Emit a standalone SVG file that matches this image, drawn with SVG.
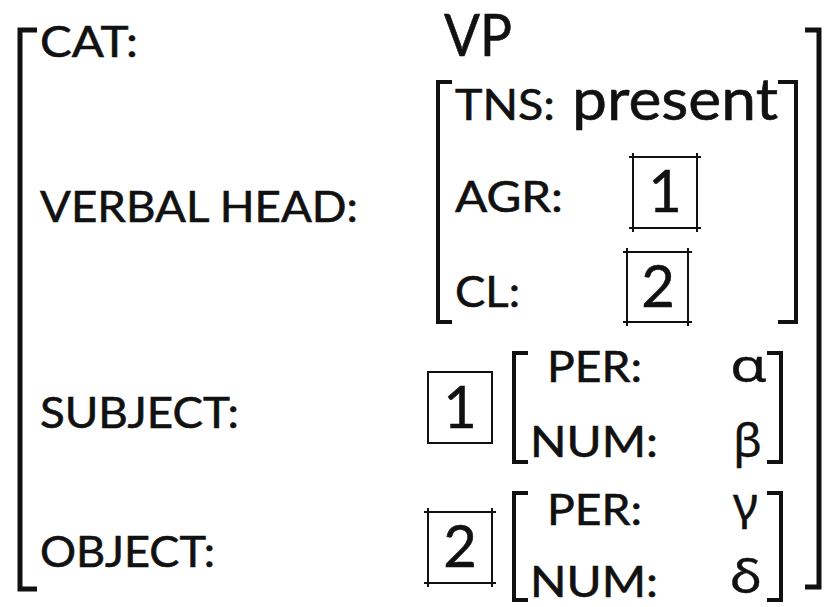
<svg xmlns="http://www.w3.org/2000/svg" width="825" height="607" viewBox="0 0 825 607">
  <style>
    .lbl { font-family: Lato, "Noto Sans", "DejaVu Sans", sans-serif; font-size: 43px; fill: #111; stroke: #111; stroke-width: 0.6px; }
    .val { font-family: Lato, "Noto Sans", "DejaVu Sans", sans-serif; font-size: 58px; fill: #111; stroke: #111; stroke-width: 0.6px; }
    .grk { font-family: "Noto Sans", "DejaVu Sans", sans-serif; font-size: 46px; fill: #111; stroke: #111; stroke-width: 0.4px; }
    .num { font-family: Lato, "Noto Sans", sans-serif; font-size: 58px; fill: #111; stroke: #111; stroke-width: 0.5px; text-anchor: middle; }
    .brk { fill: none; stroke: #111; stroke-linejoin: miter; stroke-linecap: butt; }
    .box { fill: none; stroke: #111; stroke-width: 2; }
  </style>
  <rect width="825" height="607" fill="#fff"/>

  <g id="outer-brackets">
    <path class="brk" stroke-width="5" d="M37,30 H20 V589 H37"/>
    <path class="brk" stroke-width="5" d="M805,30 H819 V587 H805"/>
  </g>

  <g id="cat">
    <text class="lbl" x="40" y="57" textLength="98" lengthAdjust="spacingAndGlyphs">CAT:</text>
    <text class="val" x="444" y="56" font-size="56" textLength="68" lengthAdjust="spacingAndGlyphs">VP</text>
  </g>

  <g id="verbal-head">
    <text class="lbl" x="40" y="222" textLength="318" lengthAdjust="spacingAndGlyphs">VERBAL HEAD:</text>
    <path class="brk" stroke-width="4" d="M452,82 H438 V322 H452"/>
    <path class="brk" stroke-width="4" d="M778,82 H796 V322 H778"/>
    <text class="lbl" x="455" y="120" textLength="100" lengthAdjust="spacingAndGlyphs">TNS:</text>
    <text class="val" x="572" y="120" textLength="206" lengthAdjust="spacingAndGlyphs">present</text>
    <text class="lbl" x="455" y="212" textLength="108" lengthAdjust="spacingAndGlyphs">AGR:</text>
    <g id="tag-agr">
      <rect class="box" x="633" y="157" width="64" height="71"/>
      <path class="box" d="M629,157 H701 M629,228 H701 M633,153 V232 M697,153 V232" stroke-width="1.5"/>
      <text class="num" x="665" y="212">1</text>
    </g>
    <text class="lbl" x="455" y="307" textLength="65" lengthAdjust="spacingAndGlyphs">CL:</text>
    <g id="tag-cl">
      <rect class="box" x="627" y="252" width="61" height="70"/>
      <path class="box" d="M623,252 H692 M623,322 H692 M627,248 V326 M688,248 V326" stroke-width="1.5"/>
      <text class="num" x="658" y="307">2</text>
    </g>
  </g>

  <g id="subject">
    <text class="lbl" x="40" y="428" textLength="199" lengthAdjust="spacingAndGlyphs">SUBJECT:</text>
    <rect class="box" x="428" y="372" width="64" height="71"/>
    <text class="num" x="460" y="428">1</text>
    <path class="brk" stroke-width="4" d="M528,353 H514 V462 H528"/>
    <path class="brk" stroke-width="4" d="M767,353 H781 V462 H767"/>
    <text class="lbl" x="547" y="382" textLength="95" lengthAdjust="spacingAndGlyphs">PER:</text>
    <text class="lbl" x="530" y="457" textLength="128" lengthAdjust="spacingAndGlyphs">NUM:</text>
    <text class="grk" x="730" y="382" textLength="37" lengthAdjust="spacingAndGlyphs">α</text>
    <text class="grk" x="733" y="457" textLength="29" lengthAdjust="spacingAndGlyphs">β</text>
  </g>

  <g id="object">
    <text class="lbl" x="40" y="567" textLength="175" lengthAdjust="spacingAndGlyphs">OBJECT:</text>
    <rect class="box" x="428" y="512" width="64" height="71"/>
    <path class="box" d="M424,512 H496 M424,583 H496 M428,508 V587 M492,508 V587" stroke-width="1.5"/>
    <text class="num" x="460" y="567">2</text>
    <path class="brk" stroke-width="4" d="M528,493 H514 V600 H528"/>
    <path class="brk" stroke-width="4" d="M767,493 H781 V600 H767"/>
    <text class="lbl" x="547" y="525" textLength="95" lengthAdjust="spacingAndGlyphs">PER:</text>
    <text class="lbl" x="530" y="597" textLength="128" lengthAdjust="spacingAndGlyphs">NUM:</text>
    <text class="grk" x="733" y="520" textLength="25" lengthAdjust="spacingAndGlyphs">γ</text>
    <text class="grk" x="730" y="593" textLength="32" lengthAdjust="spacingAndGlyphs">δ</text>
  </g>
</svg>
